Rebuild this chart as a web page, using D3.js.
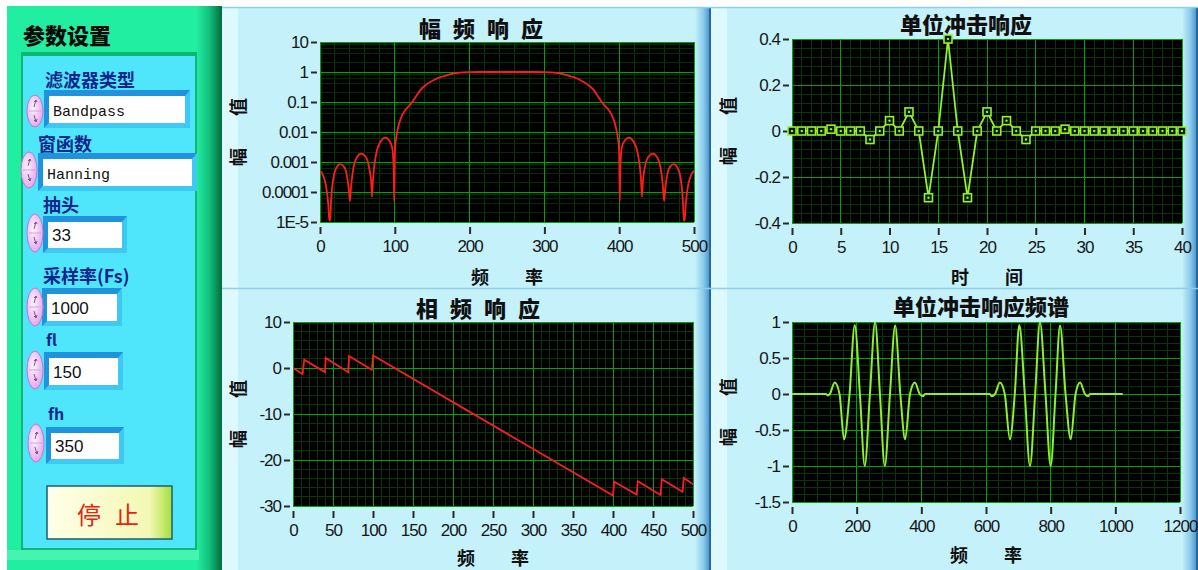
<!DOCTYPE html>
<html>
<head>
<meta charset="utf-8">
<title>FIR 滤波器设计</title>
<script src="https://cdnjs.cloudflare.com/ajax/libs/d3/7.8.5/d3.min.js"></script>
<style>
  body { margin: 0; background: #fff; }
  svg { display: block; }
</style>
</head>
<body>
<div class="front"></div>
<script>
// values

// 幅频响应 (log scale)
const magFreq = [0, 4, 8, 11, 12.5, 13.5, 15, 18, 22, 27, 32, 36, 38.5, 40, 41.5, 44, 49, 55, 61, 66,
  68.5, 69.5, 71, 75, 81, 87, 93, 96.5, 98.5, 99.2, 100.2, 103, 106, 110, 115, 122, 128, 134, 142, 151,
  160, 169, 178, 187, 200, 215, 250, 285, 300, 313, 322, 331, 340, 349, 358, 366, 372, 378, 385, 390,
  394, 397, 399.8, 400.8, 401.5, 403.5, 407, 413, 419, 425, 429, 430.5, 431.5, 434, 439, 445, 451, 456,
  458.5, 460, 461.5, 464, 468, 473, 478, 482, 485, 486.5, 487.5, 489, 492, 496, 500];
const magValue = [5.2e-4, 3.6e-4, 1.6e-4, 4e-5, 1.2e-5, 1.1e-5, 6e-5, 3e-4, 6.5e-4, 8.5e-4, 7e-4, 3.5e-4, 1.2e-4, 5e-5, 1.5e-4, 5e-4, 1.4e-3, 1.9e-3, 1.5e-3, 6e-4,
  2e-4, 7e-5, 3e-4, 1.8e-3, 4.8e-3, 6.5e-3, 5e-3, 3e-3, 6e-4, 5e-5, 2.5e-3, 9.5e-3, 0.02, 0.037, 0.058, 0.09, 0.15, 0.25, 0.38, 0.52,
  0.66, 0.77, 0.88, 0.95, 0.99, 1, 1, 1, 0.99, 0.95, 0.88, 0.77, 0.66, 0.52, 0.38, 0.25, 0.15, 0.09, 0.058, 0.037,
  0.02, 9.5e-3, 2.5e-3, 5e-5, 6e-4, 3e-3, 5e-3, 6.5e-3, 4.8e-3, 1.8e-3, 3e-4, 7e-5, 2e-4, 6e-4, 1.5e-3, 1.9e-3, 1.4e-3, 5e-4,
  1.5e-4, 5e-5, 1.2e-4, 3.5e-4, 7e-4, 8.5e-4, 6.5e-4, 3e-4, 6e-5, 1.1e-5, 1.2e-5, 4e-5, 1.6e-4, 3.6e-4, 5.2e-4];
const magXTicks = [0, 100, 200, 300, 400, 500];
const magYTicks = [10, 1, 0.1, 0.01, 0.001, 0.0001, 0.00001];
const magYLabels = ['10', '1', '0.1', '0.01', '0.001', '0.0001', '1E-5'];

// 相频响应 (break points of the saw-tooth)
const phaseFreq = [0, 12, 14, 40, 40.8, 69, 70, 98.5, 100.2, 400, 401.5, 429.5, 431, 459.5, 461, 487, 488.5, 500];
const phaseValue = [0, -1.3, 1.8, -0.9, 2.2, -0.9, 2.6, -0.4, 2.7, -27.7, -24.7, -27.5, -24.6, -27.6, -24.2, -26.9, -23.9, -25.3];
const phaseXTicks = [0, 50, 100, 150, 200, 250, 300, 350, 400, 450, 500];
const phaseYTicks = [10, 0, -10, -20, -30];

// 单位冲击响应, n = 0 .. 40
const impulseValue = [0, 0, 0, 0, 0.008, 0, 0, 0, -0.037, 0, 0.045, 0, 0.083, 0, -0.29, 0, 0.4, 0, -0.29, 0,
  0.083, 0, 0.045, 0, -0.037, 0, 0, 0, 0.008, 0, 0, 0, 0, 0, 0, 0, 0, 0, 0, 0, 0];
const impulseXTicks = [0, 5, 10, 15, 20, 25, 30, 35, 40];
const impulseYTicks = [0.4, 0.2, 0, -0.2, -0.4];

// 单位冲击响应频谱 (extrema and zero crossings)
const specFreq = [0, 100, 105, 110, 117, 132, 147, 161, 178, 194, 210, 225, 241, 257, 272, 287, 303, 319, 335, 350,
  365, 380, 395, 405, 412, 607, 612, 617, 628, 643, 658, 674, 689, 703, 720, 736, 752, 767, 784, 800,
  815, 829, 846, 862, 877, 891, 906, 916, 922, 1023];
const specValue = [0, 0, 0, -0.02, 0, 0.16, 0, -0.63, 0, 0.96, 0, -1, 0, 1, 0, -1, 0, 0.95, 0, -0.63,
  0, 0.16, 0, -0.03, 0, 0, 0, -0.03, 0, 0.16, 0, -0.63, 0, 0.96, 0, -1, 0, 1, 0, -1,
  0, 0.95, 0, -0.63, 0, 0.16, 0, -0.03, 0, 0];
const specXTicks = [0, 200, 400, 600, 800, 1000, 1200];
const specYTicks = [1, 0.5, 0, -0.5, -1, -1.5];

// 参数设置
const controlLabels = ['滤波器类型', '窗函数', '抽头', '采样率(Fs)', 'fl', 'fh'];
const controlValues = ['Bandpass', 'Hanning', '33', '1000', '150', '350'];

const CJK = '"Noto Sans CJK SC", "Noto Sans", sans-serif';
const NUM = '"Liberation Sans", Arial, sans-serif';

const svg = d3.select('.front').append('svg')
  .attr('width', 1198)
  .attr('height', 570)
  .style('font-family', CJK);

const defs = svg.append('defs');
function grad(id, stops, vertical) {
  let g = defs.append('linearGradient').attr('id', id)
    .attr('x1', 0).attr('y1', 0).attr('x2', vertical ? 0 : 1).attr('y2', vertical ? 1 : 0);
  stops.forEach(s => g.append('stop').attr('offset', s[0]).attr('stop-color', s[1]));
}
grad('greenEdge', [[0, '#22eea2'], [0.5, '#12c27e'], [1, '#056a3f']]);
grad('blueEdge', [[0, '#c5f1fb'], [0.55, '#86c8ea'], [1, '#3f88c2']]);
grad('stopFill', [[0, '#ffffe8'], [0.82, '#f3f8b4'], [1, '#a6de3c']]);
let pink = defs.append('radialGradient').attr('id', 'pink')
  .attr('cx', '40%').attr('cy', '40%').attr('r', '70%');
pink.append('stop').attr('offset', 0).attr('stop-color', '#fff4ff');
pink.append('stop').attr('offset', 1).attr('stop-color', '#e39ce9');

// ---------- left control panel ----------
const side = svg.append('g');
side.append('rect').attr('x', 7).attr('y', 6).attr('width', 215).attr('height', 564).attr('fill', '#22eea2');
side.append('rect').attr('x', 196).attr('y', 6).attr('width', 26).attr('height', 564).attr('fill', 'url(#greenEdge)');
side.append('rect').attr('x', 7).attr('y', 550).attr('width', 192).attr('height', 10).attr('fill', '#46f4b2');
side.append('rect').attr('x', 21).attr('y', 52).attr('width', 176).attr('height', 498).attr('fill', '#0fb673');
side.append('rect').attr('x', 23).attr('y', 56).attr('width', 172).attr('height', 492).attr('fill', '#4fe6fb');

side.append('text')
  .attr('x', 23).attr('y', 44)
  .text('参数设置')
  .style('font-size', '22px').style('font-weight', 900)
  .attr('fill', '#0a0a0a');

const ctrlLayout = [
  { lx: 45, ly: 87, sx: 35, sy: 111, ry: 16, bx: 49, by: 96, bw: 136, bh: 27, mono: true },
  { lx: 38, ly: 151, sx: 29, sy: 170, ry: 18, bx: 43, by: 159, bw: 149, bh: 27, mono: true },
  { lx: 43, ly: 212, sx: 35, sy: 233, ry: 19, bx: 48, by: 222, bw: 74, bh: 26 },
  { lx: 43, ly: 283, sx: 35, sy: 307, ry: 19, bx: 47, by: 294, bw: 70, bh: 27 },
  { lx: 46, ly: 346, sx: 35, sy: 370, ry: 19, bx: 49, by: 358, bw: 69, bh: 27 },
  { lx: 48, ly: 420, sx: 36, sy: 443, ry: 19, bx: 51, by: 433, bw: 68, bh: 26 }
];

function spinner(cx, cy, ry) {
  side.append('ellipse').attr('cx', cx).attr('cy', cy).attr('rx', 8).attr('ry', ry)
    .attr('fill', 'url(#pink)').attr('stroke', '#b77cc9').attr('stroke-width', 1);
  side.append('line').attr('x1', cx - 6).attr('x2', cx + 6).attr('y1', cy).attr('y2', cy)
    .attr('stroke', '#c99ad6').attr('stroke-width', 0.8);
  side.append('path')
    .attr('d', `M${cx - 1},${cy - 4}L${cx + 1},${cy - 11}l-2,2M${cx + 1},${cy - 11}l1,2` +
      `M${cx - 1},${cy + 4}L${cx + 1},${cy + 11}l-2,-2M${cx + 1},${cy + 11}l1,-3`)
    .attr('fill', 'none').attr('stroke', '#6a4a7a').attr('stroke-width', 0.9);
}

function inputBox(x, y, w, h) {
  side.append('rect').attr('x', x - 5).attr('y', y - 6).attr('width', w + 10).attr('height', h + 11)
    .attr('fill', '#3ec8f4');
  side.append('path')
    .attr('d', `M${x - 5},${y - 6}H${x + w + 5}L${x + w},${y}H${x}V${y + h}L${x - 5},${y + h + 5}Z`)
    .attr('fill', '#1f93de');
  side.append('rect').attr('x', x).attr('y', y).attr('width', w).attr('height', h).attr('fill', '#fff');
}

ctrlLayout.forEach((c, i) => {
  side.append('text')
    .attr('x', c.lx).attr('y', c.ly)
    .text(controlLabels[i])
    .style('font-size', i >= 4 ? '16px' : '18px')
    .style('font-weight', 700)
    .attr('fill', '#10268c');
  inputBox(c.bx, c.by, c.bw, c.bh);
  spinner(c.sx, c.sy, c.ry);
  side.append('text')
    .attr('x', c.bx + 4).attr('y', c.by + c.bh - 7)
    .text(controlValues[i])
    .style('font-family', c.mono ? '"Liberation Mono", "DejaVu Sans Mono", monospace' : NUM)
    .style('font-size', c.mono ? '15px' : '17px')
    .attr('fill', '#111');
});

side.append('rect')
  .attr('x', 47).attr('y', 486).attr('width', 125).attr('height', 53)
  .attr('fill', 'url(#stopFill)').attr('stroke', '#1d5e6e').attr('stroke-width', 1.5);
side.append('text')
  .attr('x', 108 + 7).attr('y', 513)
  .attr('text-anchor', 'middle').attr('dominant-baseline', 'central')
  .style('font-size', '24px').style('letter-spacing', '14px')
  .attr('fill', '#e8230f')
  .text('停止');

// ---------- chart panels ----------
const panelBoxes = [[222, 7, 489, 281], [711, 7, 487, 281], [222, 288, 489, 282], [711, 288, 487, 282]];
panelBoxes.forEach(([x, y, w, h]) => {
  svg.append('rect').attr('x', x).attr('y', y).attr('width', w).attr('height', h).attr('fill', '#c5f1fb');
  svg.append('rect').attr('x', x).attr('y', y).attr('width', 16).attr('height', h).attr('fill', '#dcf9fe');
  svg.append('rect').attr('x', x + w - 16).attr('y', y).attr('width', 16).attr('height', h).attr('fill', 'url(#blueEdge)');
  svg.append('line').attr('x1', x + w - 1).attr('x2', x + w - 1).attr('y1', y).attr('y2', y + h)
    .attr('stroke', '#1d5a8c').attr('stroke-width', 1.5);
  svg.append('line').attr('x1', x).attr('x2', x + w).attr('y1', y + 0.5).attr('y2', y + 0.5)
    .attr('stroke', '#8ccfee').attr('stroke-width', 1.5);
});

let clipCount = 0;
function frame(c) {
  const g = svg.append('g');
  const [x0, x1] = c.x.range();
  const [y0, y1] = c.y.range();
  g.append('rect').attr('x', x0).attr('y', y1).attr('width', x1 - x0).attr('height', y0 - y1).attr('fill', '#000');

  const grid = g.append('g').attr('shape-rendering', 'crispEdges');
  function vlines(vals, color) {
    grid.selectAll(null).data(vals).enter().append('line')
      .attr('x1', d => c.x(d)).attr('x2', d => c.x(d)).attr('y1', y1).attr('y2', y0)
      .attr('stroke', color);
  }
  function hlines(vals, color) {
    grid.selectAll(null).data(vals).enter().append('line')
      .attr('x1', x0).attr('x2', x1).attr('y1', d => c.y(d)).attr('y2', d => c.y(d))
      .attr('stroke', color);
  }
  vlines(c.xMinor, '#073607');
  hlines(c.yMinor, c.yMinorColor || '#073607');
  vlines(c.xTicks, '#00a600');
  hlines(c.yTicks, '#00a600');

  const ya = g.append('g').attr('transform', `translate(${x0 - 3},0)`)
    .call(d3.axisLeft(c.y).tickValues(c.yTicks).tickFormat(c.yFormat).tickSize(6).tickPadding(3));
  const xa = g.append('g').attr('transform', `translate(0,${y0 + 5})`)
    .call(d3.axisBottom(c.x).tickValues(c.xTicks).tickFormat(d => String(d)).tickSize(7).tickPadding(6));
  [ya, xa].forEach(a => {
    a.select('.domain').remove();
    a.selectAll('line').attr('stroke', '#2a2a2a').attr('stroke-width', 2);
    a.selectAll('text').attr('fill', '#161616')
      .style('font-family', NUM).style('font-size', '17px').style('letter-spacing', '-1px');
  });

  g.append('text')
    .attr('x', c.titleX + (c.titleLs || 0) / 2).attr('y', c.titleY)
    .attr('text-anchor', 'middle').attr('dominant-baseline', 'central')
    .style('font-size', '22px').style('font-weight', 900)
    .style('letter-spacing', (c.titleLs || 0) + 'px')
    .attr('fill', '#101010')
    .text(c.title);
  g.append('text')
    .attr('x', (x0 + x1) / 2 + 18).attr('y', c.xTitleY)
    .attr('text-anchor', 'middle').attr('dominant-baseline', 'central')
    .style('font-size', '18px').style('font-weight', 700).style('letter-spacing', '36px')
    .attr('fill', '#101010')
    .text(c.xTitle);
  g.append('text')
    .attr('transform', `translate(${c.yTitleX},${(y0 + y1) / 2}) rotate(-90)`)
    .attr('x', 16)
    .attr('text-anchor', 'middle').attr('dominant-baseline', 'central')
    .style('font-size', '18px').style('font-weight', 700).style('letter-spacing', '32px')
    .attr('fill', '#101010')
    .text('幅值');

  const id = 'plot-clip-' + (clipCount++);
  defs.append('clipPath').attr('id', id)
    .append('rect').attr('x', x0).attr('y', y1).attr('width', x1 - x0).attr('height', y0 - y1);
  return g.append('g').attr('clip-path', `url(#${id})`);
}

const fmt1 = d => (d === 0 ? '0' : (d < 0 ? '-' : '') + Math.abs(d).toFixed(1));
const fmtG = d => (d < 0 ? '-' : '') + Math.abs(d);

// 幅频响应
const xMag = d3.scaleLinear().domain([0, 500]).range([320, 694]);
const yMag = d3.scaleLog().domain([1e-5, 10]).range([222, 42]);
const logMinor = [];
magYTicks.slice(1).forEach(t => [2, 4, 6, 8].forEach(k => logMinor.push(t * k)));
const magPlot = frame({
  x: xMag, y: yMag,
  xTicks: magXTicks, yTicks: magYTicks,
  xMinor: d3.range(0, 501, 20), yMinor: logMinor, yMinorColor: '#062c06',
  yFormat: (d, i) => magYLabels[i],
  title: '幅频响应', titleX: 481, titleY: 27, titleLs: 12,
  xTitle: '频率', xTitleY: 276, yTitleX: 237
});
magPlot.append('path')
  .datum(d3.zip(magFreq, magValue))
  .attr('fill', 'none').attr('stroke', '#ff1c1c').attr('stroke-width', 1.8)
  .attr('d', d3.line().x(d => xMag(d[0])).y(d => yMag(d[1])).curve(d3.curveMonotoneX));

// 单位冲击响应
const xImp = d3.scaleLinear().domain([0, 40]).range([792, 1182]);
const yImp = d3.scaleLinear().domain([-0.4, 0.4]).range([223, 39]);
const impPlot = frame({
  x: xImp, y: yImp,
  xTicks: impulseXTicks, yTicks: impulseYTicks,
  xMinor: d3.range(0, 41, 1), yMinor: d3.range(-0.4, 0.401, 0.04),
  yFormat: fmt1,
  title: '单位冲击响应', titleX: 966, titleY: 23,
  xTitle: '时间', xTitleY: 276, yTitleX: 727
});
const impPts = impulseValue.map((v, i) => [i, v]);
impPlot.append('path')
  .datum(impPts)
  .attr('fill', 'none').attr('stroke', '#96f22a').attr('stroke-width', 1.8)
  .attr('d', d3.line().x(d => xImp(d[0])).y(d => yImp(d[1])));
const impMarks = svg.append('g');
impMarks.selectAll('rect').data(impPts).enter().append('rect')
  .attr('x', d => xImp(d[0]) - 4).attr('y', d => yImp(d[1]) - 4)
  .attr('width', 8).attr('height', 8)
  .attr('fill', '#0a1a00').attr('stroke', '#96f22a').attr('stroke-width', 1.6);
impMarks.selectAll('circle').data(impPts).enter().append('circle')
  .attr('cx', d => xImp(d[0])).attr('cy', d => yImp(d[1])).attr('r', 1.2)
  .attr('fill', '#96f22a');

// 相频响应
const xPh = d3.scaleLinear().domain([0, 500]).range([293, 693]);
const yPh = d3.scaleLinear().domain([-30, 10]).range([506, 322]);
const phPlot = frame({
  x: xPh, y: yPh,
  xTicks: phaseXTicks, yTicks: phaseYTicks,
  xMinor: d3.range(0, 501, 10), yMinor: d3.range(-30, 10.1, 2),
  yFormat: fmtG,
  title: '相频响应', titleX: 478, titleY: 307, titleLs: 12,
  xTitle: '频率', xTitleY: 557, yTitleX: 237
});
phPlot.append('path')
  .datum(d3.zip(phaseFreq, phaseValue))
  .attr('fill', 'none').attr('stroke', '#ff1c1c').attr('stroke-width', 1.8)
  .attr('d', d3.line().x(d => xPh(d[0])).y(d => yPh(d[1])));

// 单位冲击响应频谱
const xSp = d3.scaleLinear().domain([0, 1200]).range([792, 1180]);
const ySp = d3.scaleLinear().domain([-1.5, 1]).range([502, 322]);
const spPlot = frame({
  x: xSp, y: ySp,
  xTicks: specXTicks, yTicks: specYTicks,
  xMinor: d3.range(0, 1201, 40), yMinor: d3.range(-1.5, 1.01, 0.1),
  yFormat: fmtG,
  title: '单位冲击响应频谱', titleX: 981, titleY: 305,
  xTitle: '频率', xTitleY: 554, yTitleX: 727
});
spPlot.append('path')
  .datum(d3.zip(specFreq, specValue))
  .attr('fill', 'none').attr('stroke', '#8ef02a').attr('stroke-width', 2)
  .attr('d', d3.line().x(d => xSp(d[0])).y(d => ySp(d[1])).curve(d3.curveMonotoneX));
</script>
</body>
</html>
